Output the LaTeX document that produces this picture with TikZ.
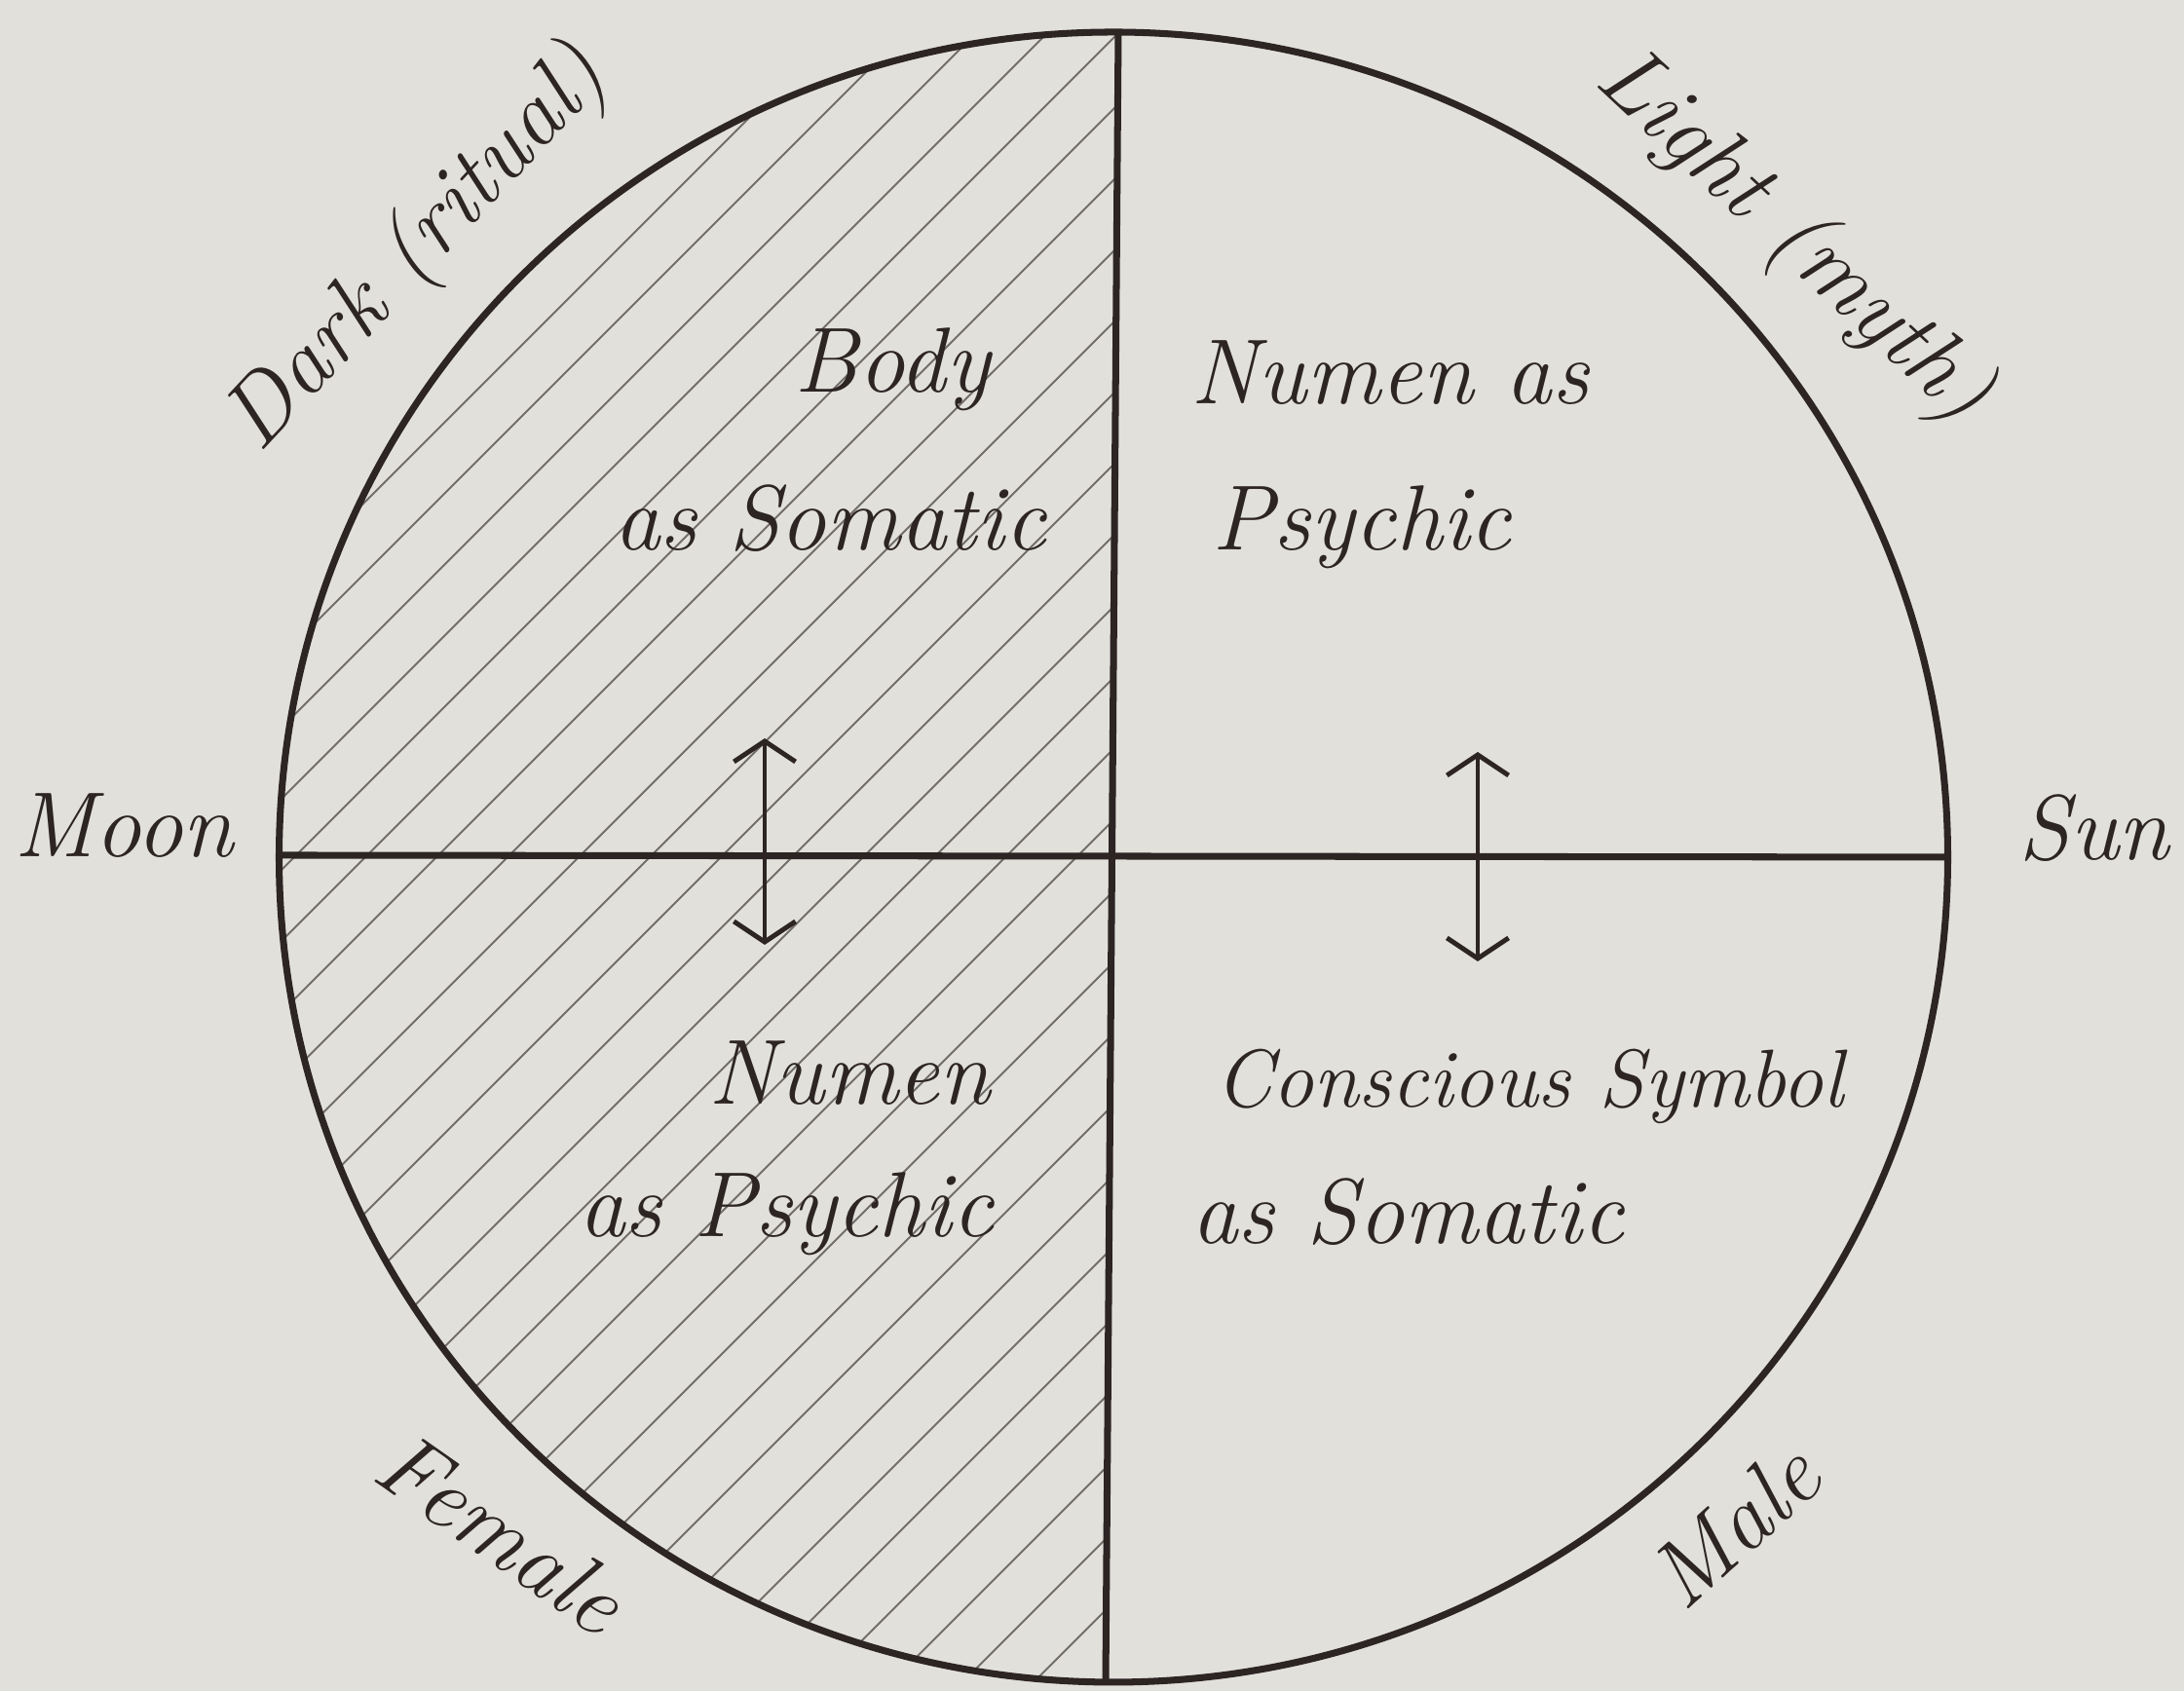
\documentclass[tikz,border=0pt]{standalone}
\usetikzlibrary{arrows.meta}
\definecolor{paper}{RGB}{225,224,219}
\definecolor{ink}{RGB}{45,36,36}
\definecolor{hatchcol}{RGB}{115,110,108}
\newcommand\handfont{\rmfamily\itshape}
\begin{document}
\begin{tikzpicture}[x=1cm,y=1cm,
  frame/.style={draw=ink, line width=2pt},
  hatchline/.style={draw=hatchcol, line width=0.55pt},
  dbl/.style={draw=ink, line width=1.4pt, {Straight Barb[length=6pt,width=18pt]}-{Straight Barb[length=6pt,width=18pt]}},
  lbl/.style={text=ink, font=\handfont\fontsize{27}{30}\selectfont, inner sep=0pt},
  lblsmall/.style={text=ink, font=\handfont\fontsize{24}{27}\selectfont, inner sep=0pt},
]
\fill[paper] (0,0) rectangle (22.42,17.36);
\useasboundingbox (0,0) rectangle (22.42,17.36);
\coordinate (C) at (11.43,8.56);
\coordinate (T) at (11.48,17.03);
\coordinate (B) at (11.35,0.09);
\coordinate (L) at (2.87,8.58);
\coordinate (R) at (20.00,8.56);
\begin{scope}
  \clip (C) ellipse [x radius=8.565, y radius=8.47];
  \clip (T) -- (B) -- (0,0) -- (0,17.36) -- cycle;
  \foreach \k in {-23,...,13} \draw[hatchline] (0,4.81+0.73*\k) -- ++(17.36,17.36);
\end{scope}
\draw[frame] (C) ellipse [x radius=8.565, y radius=8.47];
\draw[frame] (T) -- (B);
\draw[frame] (L) -- (R);
\coordinate (a1) at (7.85,9.78);
\coordinate (a2) at (7.85,7.66);
\coordinate (b1) at (15.17,9.64);
\coordinate (b2) at (15.17,7.49);
\draw[dbl] (a1) -- (a2);
\draw[dbl] (b1) -- (b2);
\node[lbl, anchor=base] (moon) at (1.27,8.56) {Moon};
\node[lbl, anchor=base] (sun) at (21.50,8.53) {Sun};
\node[lbl, anchor=base] (body) at (9.16,13.33) {Body};
\node[lbl, anchor=base] (assom1) at (8.52,11.71) {as Somatic};
\node[lbl, anchor=base] (numenas) at (14.27,13.21) {Numen as};
\node[lbl, anchor=base] (psy1) at (13.98,11.71) {Psychic};
\node[lbl, anchor=base] (numen) at (8.72,6.02) {Numen};
\node[lbl, anchor=base] (aspsy) at (8.07,4.66) {as Psychic};
\node[lblsmall, anchor=base] (consc) at (15.70,5.99) {Conscious Symbol};
\node[lbl, anchor=base] (assom2) at (14.45,4.59) {as Somatic};
\node[lbl, rotate=47] (dark) at (4.29,14.79) {Dark (ritual)};
\node[lbl, rotate=-43] (light) at (18.40,14.92) {Light (myth)};
\node[lbl, rotate=-35] (female) at (5.15,1.63) {Female};
\node[lbl, rotate=42] (male) at (17.80,1.70) {Male};
\end{tikzpicture}
\end{document}
